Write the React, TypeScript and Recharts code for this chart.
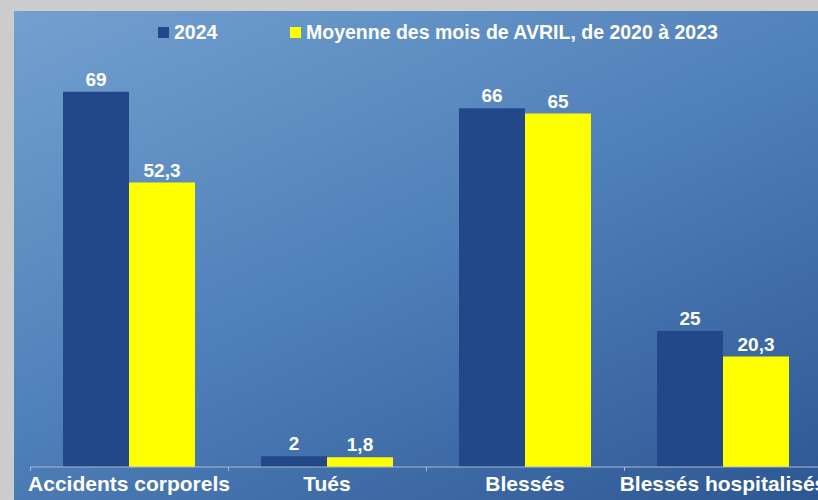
import { BarChart, Bar, XAxis, YAxis, LabelList } from "recharts";

const categories = ["Accidents corporels", "Tués", "Blessés", "Blessés hospitalisés"];
const values2024 = [69, 2, 66, 25];
const valuesAvg = [52.3, 1.8, 65, 20.3];
const seriesNames = ["2024", "Moyenne des mois de AVRIL, de 2020 à 2023"];

const data = categories.map((name, i) => ({
  name,
  a: values2024[i],
  b: valuesAvg[i],
}));

const FONT = "'Liberation Sans', Arial, sans-serif";
const BLUE = "#22488a";
const YELLOW = "#ffff00";
const AXIS = "#a9b8cc";
const BAND = 197;

const fmt = (v: number) => String(v).replace(".", ",");

// tick marks sit on category boundaries, label at the centre
function CategoryTick({ x, y, payload }: any) {
  const bx = x - BAND / 2;
  return (
    <g>
      <line x1={bx} x2={bx} y1={y - 4} y2={y} stroke={AXIS} />
      <text
        x={x}
        y={y + 20}
        textAnchor="middle"
        fill="#ffffff"
        fontFamily={FONT}
        fontWeight="bold"
        fontSize={21}
      >
        {payload.value}
      </text>
    </g>
  );
}

// legend drawn over the chart so it does not take plot space
function LegendBox() {
  const items = [
    { label: seriesNames[0], color: BLUE, left: 158 },
    { label: seriesNames[1], color: YELLOW, left: 290 },
  ];
  return (
    <>
      {items.map((it) => (
        <div
          key={it.label}
          style={{
            position: "absolute",
            left: it.left,
            top: 21,
            height: 22,
            display: "flex",
            alignItems: "center",
            fontFamily: FONT,
            fontWeight: "bold",
            fontSize: 19.5,
            color: "#fff",
            whiteSpace: "nowrap",
          }}
        >
          <span style={{ width: 11, height: 11, background: it.color, marginRight: 5 }} />
          <span>{it.label}</span>
        </div>
      ))}
    </>
  );
}

export default function App() {
  return (
    <div
      style={{
        position: "fixed",
        left: 0,
        top: 0,
        width: 818,
        height: 500,
        background: "#cccccc",
        overflow: "hidden",
      }}
    >
      <div
        style={{
          position: "absolute",
          left: 14,
          top: 11,
          width: 804,
          height: 489,
          background: "linear-gradient(155deg, #72a0d0 0%, #4f7fb8 50%, #2d5793 100%)",
        }}
      >
        <BarChart
          width={806}
          height={489}
          data={data}
          barGap={0}
          barCategoryGap={33}
          margin={{ top: 21, right: -2, bottom: 0, left: 16 }}
        >
          <YAxis hide domain={[0, 80]} />
          <XAxis
            dataKey="name"
            height={33}
            interval={0}
            axisLine={{ stroke: AXIS }}
            tickLine={false}
            tickSize={4}
            tickMargin={0}
            tick={<CategoryTick />}
            ticks={categories}
          />
          <Bar dataKey="a" name={seriesNames[0]} fill={BLUE} isAnimationActive={false}>
            <LabelList
              dataKey="a"
              position="top"
              offset={6}
              formatter={(v: any) => fmt(v)}
              style={{ fill: "#fff", fontFamily: FONT, fontWeight: "bold", fontSize: 19 }}
            />
          </Bar>
          <Bar dataKey="b" name={seriesNames[1]} fill={YELLOW} isAnimationActive={false}>
            <LabelList
              dataKey="b"
              position="top"
              offset={6}
              formatter={(v: any) => fmt(v)}
              style={{ fill: "#fff", fontFamily: FONT, fontWeight: "bold", fontSize: 19 }}
            />
          </Bar>
        </BarChart>
      </div>
      <LegendBox />
    </div>
  );
}
